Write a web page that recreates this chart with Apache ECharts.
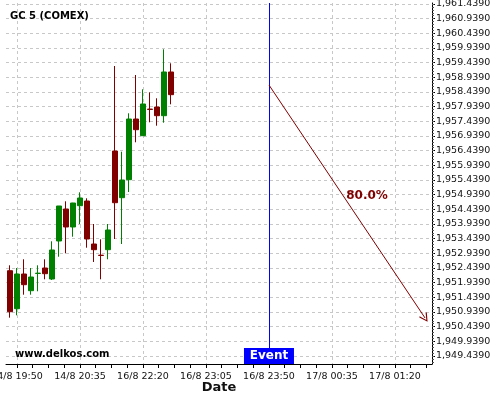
<!DOCTYPE html>
<html><head><meta charset="utf-8">
<script src="https://cdn.jsdelivr.net/npm/echarts@6/dist/echarts.min.js"></script>
<style>html,body{margin:0;padding:0;background:#fff}#c{width:500px;height:400px}</style>
</head><body><div id="c"></div>
<script>
const chartTitle = 'GC 5 (COMEX)';
const watermark = 'www.delkos.com';
const xName = 'Date';

// bar index (5-minute bars), open, close, low, high
const candleIndex = [0,1,2,3,4,5,6,7,8,9,10,11,12,13,14,15,16,17,18,19,20,21,22,23];
const opens  = [1952.346,1951.050,1952.233,1951.664,1952.252,1952.438,1952.063,1953.359,1954.450,1953.836,1954.562,1954.722,1953.256,1952.875,1953.062,1956.427,1954.835,1955.449,1957.518,1956.949,1957.855,1957.927,1957.631,1959.121];
const closes = [1950.948,1952.233,1951.869,1952.131,1952.262,1952.244,1953.052,1954.552,1953.836,1954.654,1954.825,1953.427,1953.062,1952.865,1953.734,1954.664,1955.438,1957.518,1957.153,1958.030,1957.845,1957.631,1959.121,1958.347];
const lows   = [1950.744,1950.825,1951.528,1951.528,1951.644,1952.053,1952.029,1952.823,1952.939,1953.505,1953.938,1953.130,1952.643,1952.053,1952.735,1953.427,1953.256,1955.029,1956.724,1956.949,1957.406,1957.290,1957.392,1958.019];
const highs  = [1952.530,1952.438,1952.735,1952.438,1952.530,1952.735,1953.348,1954.552,1954.712,1954.660,1955.019,1954.815,1953.938,1953.416,1953.938,1959.325,1956.403,1957.712,1959.018,1958.531,1958.428,1958.224,1959.895,1959.417];

const xTickLabels = ['14/8 19:50','14/8 20:35','16/8 22:20','16/8 23:05','16/8 23:50','17/8 00:35','17/8 01:20'];
const xTickIndex  = [1,10,19,28,37,46,55];
const yTickValues = [1949.439,1949.939,1950.439,1950.939,1951.439,1951.939,1952.439,1952.939,1953.439,1953.939,1954.439,1954.939,1955.439,1955.939,1956.439,1956.939,1957.439,1957.939,1958.439,1958.939,1959.439,1959.939,1960.439,1960.939,1961.439];

const eventIndex = 37;
const eventLabel = 'Event';
const arrowStart = [37, 1958.677];
const arrowEnd   = [59.3, 1950.733];
const arrowText  = '80.0%';

const xMin = -0.571, xMax = 60.29;
const yMin = 1949.165, yMax = 1961.473;

const xMinorTicks = [];
for (let t = xTickIndex[0]; t <= xMax; t += 2.25) xMinorTicks.push(t);
const yMinorTicks = [];
for (let k = -2; k <= 120; k++) yMinorTicks.push(yTickValues[0] + k * 0.1);

function fmtY(v) {
  const s = Number(v).toFixed(4).split('.');
  return s[0].replace(/\B(?=(\d{3})+(?!\d))/g, ',') + '.' + s[1];
}
function fmtX(v) {
  const i = xTickIndex.indexOf(Math.round(v));
  return i >= 0 ? xTickLabels[i] : '';
}

const FONT = 'DejaVu Sans';
const GL = 6, GR = 68, GT = 3, GB = 36;
const grid = { left: GL, right: GR, top: GT, bottom: GB, outerBoundsMode: 'none', containLabel: false };
const dash = { type: [3, 3], color: '#c8c8c8', width: 1 };

const chart = echarts.init(document.getElementById('c'), null, { renderer: 'canvas' });
const gridWidth = chart.getWidth() - GL - GR;
chart.setOption({
  animation: false,
  backgroundColor: '#fff',
  textStyle: { fontFamily: FONT },
  title: [
    { text: chartTitle, left: 10, top: 11, padding: 0, textStyle: { fontFamily: FONT, fontSize: 10, fontWeight: 'bold', color: '#000' } },
    { text: watermark, left: 15, top: 349, padding: 0, textStyle: { fontFamily: FONT, fontSize: 10, fontWeight: 'bold', color: '#000' } }
  ],
  grid: grid,
  xAxis: [
    {
      type: 'value', min: xMin, max: xMax, position: 'bottom',
      axisLine: { show: true, onZero: false, lineStyle: { color: '#000', width: 1 } },
      axisTick: { show: true, customValues: xMinorTicks, length: 4, lineStyle: { color: '#000' } },
      axisLabel: { customValues: xTickIndex, formatter: fmtX, fontFamily: FONT, fontSize: 9.5, color: '#111', margin: 8, hideOverlap: false },
      splitLine: { show: false },
      name: xName, nameLocation: 'middle', nameGap: 17, nameMoveOverlap: false,
      nameTextStyle: { fontFamily: FONT, fontSize: 13, fontWeight: 'bold', color: '#111' }
    },
    {
      type: 'value', min: xMin, max: xMax, position: 'bottom',
      axisLine: { show: false },
      axisTick: { show: false, customValues: xTickIndex },
      axisLabel: { show: false, customValues: xTickIndex },
      splitLine: { show: true, lineStyle: dash }
    }
  ],
  yAxis: [
    {
      type: 'value', min: yMin, max: yMax, position: 'right',
      axisLine: { show: true, onZero: false, lineStyle: { color: '#000', width: 1 } },
      axisTick: { show: true, customValues: yTickValues, length: 3, lineStyle: { color: '#000' } },
      axisLabel: { customValues: yTickValues, formatter: fmtY, fontFamily: FONT, fontSize: 9.5, color: '#111', margin: 4, hideOverlap: false },
      splitLine: { show: true, lineStyle: dash }
    },
    {
      type: 'value', min: yMin, max: yMax, position: 'left', offset: -gridWidth,
      axisLine: { show: false },
      axisTick: { show: true, inside: true, customValues: yMinorTicks, length: 2, lineStyle: { color: '#555' } },
      axisLabel: { show: false },
      splitLine: { show: false }
    }
  ],
  series: [{
    type: 'candlestick',
    xAxisIndex: 0, yAxisIndex: 0,
    barWidth: 5,
    data: candleIndex.map((x, i) => [x, opens[i], closes[i], lows[i], highs[i]]),
    itemStyle: { color: '#008000', color0: '#800000', borderColor: '#008000', borderColor0: '#800000', borderWidth: 1 },
    markLine: {
      silent: true, animation: false,
      symbol: ['none', 'none'],
      label: { show: false },
      lineStyle: { color: '#800000', width: 1, type: 'solid' },
      data: [
        { xAxis: eventIndex, lineStyle: { color: '#0000ff', width: 1, type: 'solid' } },
        [
          { coord: arrowStart, symbol: 'none' },
          { coord: arrowEnd, symbol: 'path://M5,0 L10,9 L9,10 L5,2.5 L1,10 L0,9 Z', symbolSize: [9, 9] }
        ]
      ]
    },
    markPoint: {
      silent: true, animation: false,
      data: [
        {
          coord: [eventIndex, yMin], symbol: 'rect', symbolSize: [50, 16], symbolOffset: [0, -8],
          itemStyle: { color: '#0000ff' },
          label: { show: true, position: 'inside', formatter: eventLabel, color: '#fff', fontFamily: FONT, fontWeight: 'bold', fontSize: 12 }
        },
        {
          coord: [(arrowStart[0] + arrowEnd[0]) / 2, (arrowStart[1] + arrowEnd[1]) / 2],
          symbol: 'rect', symbolSize: 1, itemStyle: { color: 'rgba(0,0,0,0)' },
          label: { show: true, position: 'inside', offset: [20, -6], formatter: arrowText, color: '#800000', fontFamily: FONT, fontWeight: 'bold', fontSize: 12 }
        }
      ]
    }
  }]
});
</script>
</body></html>
